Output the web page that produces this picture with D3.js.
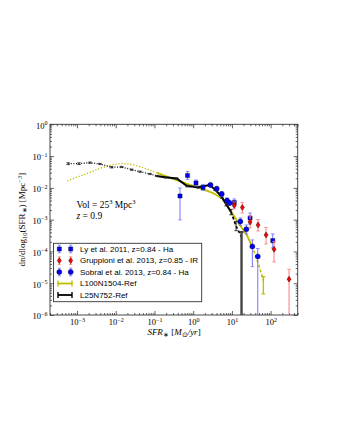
<!DOCTYPE html>
<html><head><meta charset="utf-8">
<script src="https://cdn.jsdelivr.net/npm/d3@7/dist/d3.min.js"></script>
<style>html,body{margin:0;padding:0;background:#fff}svg{display:block}</style>
</head><body>
<svg id="chart" width="340" height="440"></svg>
<script>
// ---------------- data ----------------
// L25N752-Ref (black)
const l25Sfr=[5.9e-4,1.12e-3,2.16e-3,3.9e-3,7.8e-3,0.0142,0.0258,0.0423,0.0766,0.114,0.187,0.375,0.692,1.33,2.64,3.66,5.39,7.05,9.49,12.8,17.7];
const l25Phi=[0.0577,0.0577,0.062,0.0565,0.0445,0.0454,0.0374,0.0323,0.0274,0.0237,0.0216,0.0198,0.0115,0.0105,0.0123,8.9e-3,5.37e-3,3.12e-3,1.75e-3,6.3e-4,2.86e-4];
const l25Lo=[0.054,0.054,0.059,0.054,0.0425,0.0434,0.0357,0.0309,0.0262,0.0227,0.0206,0.0189,0.0108,0.0098,0.0115,8.2e-3,4.8e-3,2.7e-3,1.42e-3,4.5e-4,0];
const l25Hi=[0.0615,0.0615,0.065,0.059,0.0465,0.0474,0.0391,0.0337,0.0286,0.0247,0.0226,0.0207,0.0122,0.0112,0.0131,9.6e-3,5.9e-3,3.6e-3,2.1e-3,8.8e-4,4.1e-4];
const l25SolidFrom=9, l25SolidTo=18;
// L100N1504-Ref (yellow)
const l100Sfr=[5.58e-4,1.45e-3,3.91e-3,7.83e-3,0.0142,0.0283,0.0569,0.114,0.187,0.456,0.828,1.5,3.25,5.55,8.93,14.7,24.1,32.5,39.5,50.2,64.9];
const l100Phi=[0.0168,0.0255,0.0413,0.0525,0.0594,0.0537,0.0413,0.0301,0.0237,0.0161,0.0123,9.9e-3,6.9e-3,4.64e-3,2.06e-3,7.87e-4,3.38e-4,1.49e-4,8.3e-5,3.5e-5,1.2e-5];
const l100ErrIdx=[20];
const l100Lo=[4.6e-6];
const l100Hi=[1.61e-5];
const l100SolidFrom=7, l100SolidTo=17;
// Ly et al. 2011
const lySfr=[0.456,0.713,1.18,1.79,11.5,29.4,113.5];
const lyPhi=[5.56e-3,0.0245,0.01426,0.0103,3.47e-3,1.13e-3,2.19e-4];
const lyLo=[9.8e-4,0.0184,0.01148,8.28e-3,2.7e-3,7.3e-4,1.29e-4];
const lyHi=[9.93e-3,0.0328,0.0177,0.0128,4.48e-3,1.62e-3,3.55e-4];
// Sobral et al. 2013
const sobSfr=[2.8,4.05,5.46,7.48,8.67,16.5,23.6,33.7,46.5];
const sobPhi=[0.0123,9.44e-3,6.43e-3,4.02e-3,3.35e-3,8.77e-4,4.99e-4,1.44e-4,6.97e-5];
const sobLo=[0.01067,8.0e-3,5.37e-3,3.35e-3,2.8e-3,6.57e-4,3.55e-4,3.33e-5,0];
const sobHi=[0.01426,0.01107,7.7e-3,4.81e-3,4.02e-3,1.13e-3,6.8e-4,2.3e-4,1.24e-4];
// Gruppioni et al. 2013
const grSfr=[11.5,18.6,29.4,47.3,76.1,122.5,299];
const grPhi=[2.8e-3,2.42e-3,8.47e-4,6.81e-4,3.3e-4,1.17e-4,1.34e-5];
const grLo=[2.17e-3,1.62e-3,5.48e-4,4.41e-4,1.72e-4,4.68e-5,0];
const grHi=[3.6e-3,3.47e-3,1.31e-3,1.01e-3,5.69e-4,2.06e-4,2.75e-5];
// ticks
const xMajor=[1e-3,1e-2,1e-1,1e0,1e1,1e2];
const xTickExp=["\u22123","\u22122","\u22121","0","1","2"];
const yMajor=[1e-6,1e-5,1e-4,1e-3,1e-2,1e-1,1e0];
const yTickExp=["\u22126","\u22125","\u22124","\u22123","\u22122","\u22121","0"];
const legendLabels=["Ly et al. 2011, z=0.84 - Ha","Gruppioni et al. 2013, z=0.85 - IR","Sobral et al. 2013, z=0.84 - Ha","L100N1504-Ref","L25N752-Ref"];

// ---------------- chart ----------------
const svg=d3.select('#chart');
const X0=50,X1=297.7,Y0=124.3,Y1=315;
const x=d3.scaleLog().domain([2e-4,5e2]).range([X0,X1]);
const y=d3.scaleLog().domain([1e-6,1]).range([Y1,Y0]);
const serif='"Liberation Serif","Times New Roman",serif';
const sans='"Liberation Sans",Arial,sans-serif';
const YEL='#bfbf00', BLUE='#0000ff', BLUE_E='#7474ff', RED='#ff0000', RED_E='#ff7a7a';

svg.append('rect').attr('width',340).attr('height',440).attr('fill','#fff');
svg.append('defs').append('clipPath').attr('id','clip').append('rect')
  .attr('x',X0).attr('y',Y0).attr('width',X1-X0).attr('height',Y1-Y0);

const xMinor=[], yMinor=[];
for(let e=-4;e<=2;e++) for(let m=2;m<=9;m++){const v=m*Math.pow(10,e); if(v>=2e-4&&v<=5e2) xMinor.push(v);}
for(let e=-6;e<0;e++) for(let m=2;m<=9;m++) yMinor.push(m*Math.pow(10,e));

function clean(g){g.select('.domain').remove(); g.selectAll('line').attr('stroke','#222').attr('stroke-width',0.7);}
function addAxis(gen,tx,ty,vals,size,labels){
  const g=svg.append('g').attr('transform',`translate(${tx},${ty})`)
    .call(gen.tickValues(vals).tickSizeInner(-size).tickSizeOuter(0).tickPadding(labels?3:0).tickFormat(()=>''));
  clean(g); return g;
}
const axB=addAxis(d3.axisBottom(x),0,Y1,xMajor,4,true);
addAxis(d3.axisBottom(x),0,Y1,xMinor,2,false);
addAxis(d3.axisTop(x),0,Y0,xMajor,4,false);
addAxis(d3.axisTop(x),0,Y0,xMinor,2,false);
const axL=addAxis(d3.axisLeft(y),X0,0,yMajor,4,true);
addAxis(d3.axisLeft(y),X0,0,yMinor,2,false);
addAxis(d3.axisRight(y),X1,0,yMajor,4,false);
addAxis(d3.axisRight(y),X1,0,yMinor,2,false);

axB.selectAll('text').each(function(d,i){
  const t=d3.select(this).attr('font-family',serif).attr('font-size',8.5).attr('fill','#000').attr('dy','0.85em');
  t.append('tspan').text('10');
  t.append('tspan').attr('dy',-3.6).attr('font-size',6).text(xTickExp[i]);
});
axL.selectAll('text').each(function(d,i){
  const t=d3.select(this).attr('font-family',serif).attr('font-size',8.5).attr('fill','#000').attr('x',-2.5).attr('dy','0.45em');
  t.append('tspan').text('10');
  t.append('tspan').attr('dy',-3.6).attr('font-size',6).text(yTickExp[i]);
});

// frame
svg.append('rect').attr('x',X0).attr('y',Y0).attr('width',X1-X0).attr('height',Y1-Y0)
  .attr('fill','none').attr('stroke','#333').attr('stroke-width',0.9);

const plot=svg.append('g').attr('clip-path','url(#clip)');
const line=d3.line().x(d=>x(d[0])).y(d=>y(d[1]));
function pts(s,p,a,b){return s.slice(a,b+1).map((v,i)=>[v,p[a+i]]);}

function errBars(g,sfr,phi,lo,hi,color,w,cap){
  sfr.forEach((s,i)=>{
    const cx=x(s), yt=y(hi[i]), yb=lo[i]>0?y(lo[i]):Y1+20;
    g.append('line').attr('x1',cx).attr('x2',cx).attr('y1',yt).attr('y2',yb).attr('stroke',color).attr('stroke-width',w);
    g.append('line').attr('x1',cx-cap).attr('x2',cx+cap).attr('y1',yt).attr('y2',yt).attr('stroke',color).attr('stroke-width',w*0.8);
    if(lo[i]>0) g.append('line').attr('x1',cx-cap).attr('x2',cx+cap).attr('y1',yb).attr('y2',yb).attr('stroke',color).attr('stroke-width',w*0.8);
  });
}

// L100N1504 (yellow)
plot.append('path').attr('d',line(pts(l100Sfr,l100Phi,0,l100SolidFrom))).attr('fill','none').attr('stroke',YEL).attr('stroke-width',1.4).attr('stroke-dasharray','1.2,1.8');
plot.append('path').attr('d',line(pts(l100Sfr,l100Phi,l100SolidFrom,l100SolidTo))).attr('fill','none').attr('stroke',YEL).attr('stroke-width',1.9);
plot.append('path').attr('d',line(pts(l100Sfr,l100Phi,l100SolidTo,l100Sfr.length-1))).attr('fill','none').attr('stroke',YEL).attr('stroke-width',1.6).attr('stroke-dasharray','3,2');
errBars(plot,l100ErrIdx.map(i=>l100Sfr[i]),l100ErrIdx.map(i=>l100Phi[i]),l100Lo,l100Hi,YEL,1.4,2);

// L25N752 (black)
plot.append('path').attr('d',line(pts(l25Sfr,l25Phi,0,l25SolidFrom))).attr('fill','none').attr('stroke','#111').attr('stroke-width',1.3).attr('stroke-dasharray','1,1.6');
plot.append('path').attr('d',line(pts(l25Sfr,l25Phi,l25SolidFrom,l25SolidTo))).attr('fill','none').attr('stroke','#000').attr('stroke-width',2);
plot.append('path').attr('d',line(pts(l25Sfr,l25Phi,l25SolidTo,l25Sfr.length-1))).attr('fill','none').attr('stroke','#000').attr('stroke-width',1.7).attr('stroke-dasharray','3,2');
errBars(plot,l25Sfr.slice(0,-1),l25Phi.slice(0,-1),l25Lo.slice(0,-1),l25Hi.slice(0,-1),'#222',1,1.8);
errBars(plot,l25Sfr.slice(-1),l25Phi.slice(-1),l25Lo.slice(-1),l25Hi.slice(-1),'#444',2.4,2);

// observations
const sq=d3.symbol().type(d3.symbolSquare).size(17);
const circ=d3.symbol().type(d3.symbolCircle).size(20);
function diamond(w,h){return `M0,${-h/2}L${w/2},0L0,${h/2}L${-w/2},0Z`;}

errBars(plot,lySfr,lyPhi,lyLo,lyHi,BLUE_E,1,1.8);
lySfr.forEach((s,i)=>plot.append('path').attr('d',sq()).attr('transform',`translate(${x(s)},${y(lyPhi[i])})`).attr('fill',BLUE).attr('stroke','#000').attr('stroke-width',0.4));
errBars(plot,grSfr,grPhi,grLo,grHi,RED_E,1,1.8);
grSfr.forEach((s,i)=>plot.append('path').attr('d',diamond(4,5.8)).attr('transform',`translate(${x(s)},${y(grPhi[i])})`).attr('fill',RED).attr('stroke','#300').attr('stroke-width',0.5));
errBars(plot,sobSfr,sobPhi,sobLo,sobHi,BLUE_E,1,1.8);
sobSfr.forEach((s,i)=>plot.append('path').attr('d',circ()).attr('transform',`translate(${x(s)},${y(sobPhi[i])})`).attr('fill',BLUE).attr('stroke','#000').attr('stroke-width',0.4));

// annotation
const ann=svg.append('g').attr('font-family',serif).attr('font-size',9.5).attr('fill','#000');
const a1=ann.append('text').attr('x',76.5).attr('y',207.5);
a1.append('tspan').text('Vol = 25');
a1.append('tspan').attr('dy',-3.5).attr('font-size',6.5).text('3');
a1.append('tspan').attr('dy',3.5).text(' Mpc');
a1.append('tspan').attr('dy',-3.5).attr('font-size',6.5).text('3');
const a2=ann.append('text').attr('x',76.5).attr('y',218.5);
a2.append('tspan').attr('font-style','italic').text('z');
a2.append('tspan').text(' = 0.9');

// legend
const lg=svg.append('g');
const LX=53.5, LY=243.3, LW=148.2, LH=58.4;
lg.append('rect').attr('x',LX).attr('y',LY).attr('width',LW).attr('height',LH).attr('fill','#fff').attr('stroke','#333').attr('stroke-width',0.9);
const rowY=[249,260.6,272,283.5,295];
const mx=[59.3,70.7];
function legErr(cx,cy,color){
  lg.append('line').attr('x1',cx).attr('x2',cx).attr('y1',cy-3.8).attr('y2',cy+3.8).attr('stroke',color).attr('stroke-width',1);
  [cy-3.8,cy+3.8].forEach(yy=>lg.append('line').attr('x1',cx-1.6).attr('x2',cx+1.6).attr('y1',yy).attr('y2',yy).attr('stroke',color).attr('stroke-width',0.8));
}
mx.forEach(cx=>{legErr(cx,rowY[0],BLUE_E); lg.append('path').attr('d',sq()).attr('transform',`translate(${cx},${rowY[0]})`).attr('fill',BLUE).attr('stroke','#000').attr('stroke-width',0.4);});
mx.forEach(cx=>{legErr(cx,rowY[1],RED_E); lg.append('path').attr('d',diamond(4,5.8)).attr('transform',`translate(${cx},${rowY[1]})`).attr('fill',RED).attr('stroke','#300').attr('stroke-width',0.5);});
mx.forEach(cx=>{legErr(cx,rowY[2],BLUE_E); lg.append('path').attr('d',circ()).attr('transform',`translate(${cx},${rowY[2]})`).attr('fill',BLUE).attr('stroke','#000').attr('stroke-width',0.4);});
[[rowY[3],YEL],[rowY[4],'#000']].forEach(([cy,c])=>{
  lg.append('line').attr('x1',58).attr('x2',72).attr('y1',cy).attr('y2',cy).attr('stroke',c).attr('stroke-width',1.8);
  [58,72].forEach(xx=>lg.append('line').attr('x1',xx).attr('x2',xx).attr('y1',cy-3).attr('y2',cy+3).attr('stroke',c).attr('stroke-width',1.4));
});
legendLabels.forEach((t,i)=>lg.append('text').attr('x',80).attr('y',rowY[i]).attr('dy','0.35em')
  .attr('font-family',sans).attr('font-size',8).attr('fill','#000').text(t));

// axis labels
const xl=svg.append('text').attr('x',174).attr('y',335).attr('text-anchor','middle')
  .attr('font-family',serif).attr('font-size',9).attr('fill','#000');
xl.append('tspan').attr('font-style','italic').text('SFR');
xl.append('tspan').attr('dy',2).attr('font-size',6.5).text('\u2217');
xl.append('tspan').attr('dy',-2).text(' [');
xl.append('tspan').attr('font-style','italic').text('M');
xl.append('tspan').attr('dy',2).attr('font-size',6.5).text('\u2299');
xl.append('tspan').attr('dy',-2).attr('font-style','italic').text('/yr');
xl.append('tspan').text(']');

const yl=svg.append('text').attr('transform','translate(25,219.6) rotate(-90)').attr('text-anchor','middle')
  .attr('font-family',serif).attr('font-size',9).attr('fill','#000');
yl.append('tspan').text('dn/dlog');
yl.append('tspan').attr('dy',2).attr('font-size',6.5).text('10');
yl.append('tspan').attr('dy',-2).text('(SFR');
yl.append('tspan').attr('dy',2).attr('font-size',6.5).text('\u2217');
yl.append('tspan').attr('dy',-2).text(') [Mpc');
yl.append('tspan').attr('dy',-3.5).attr('font-size',6.5).text('\u22123');
yl.append('tspan').attr('dy',3.5).text(']');
</script>
</body></html>
